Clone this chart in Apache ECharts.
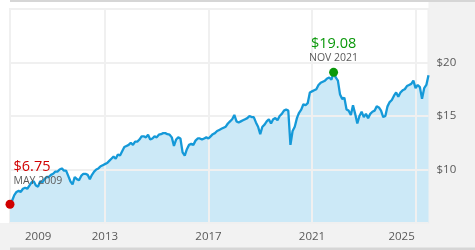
<!DOCTYPE html>
<html><head><meta charset="utf-8">
<script src="https://cdn.jsdelivr.net/npm/echarts@6/dist/echarts.min.js"></script>
<style>html,body{margin:0;padding:0;background:#fff}#c{width:475px;height:250px}</style>
</head><body><div id="c"></div>
<script>
// ---- data (monthly, first month May 2009) ----
const firstMonth = '2009-05';
const prices = [
  // 2009 May-Dec
  6.75, 7.1, 7.6, 7.9, 8.0, 7.9, 8.2, 8.3,
  // 2010
  8.2, 8.5, 8.8, 8.9, 8.5, 8.4, 8.9, 8.8, 9.1, 9.3, 9.3, 9.5,
  // 2011
  9.6, 9.8, 9.8, 10.0, 10.1, 9.9, 9.9, 9.4, 8.9, 8.6, 9.3, 9.1,
  // 2012
  9.0, 9.4, 9.6, 9.6, 9.5, 9.1, 9.5, 9.8, 10.0, 10.1, 10.3, 10.4,
  // 2013
  10.5, 10.6, 10.8, 11.0, 11.2, 11.0, 11.4, 11.3, 11.7, 12.1, 12.2, 12.3,
  // 2014
  12.5, 12.3, 12.6, 12.6, 12.8, 13.1, 13.1, 13.0, 13.25, 12.8, 12.9, 13.1,
  // 2015
  13.0, 13.25, 13.3, 13.4, 13.4, 13.3, 13.25, 13.0, 12.2, 12.8, 13.0, 12.9,
  // 2016
  11.6, 11.3, 11.9, 12.3, 12.4, 12.3, 12.7, 12.9, 12.9, 12.8, 12.9, 13.0,
  // 2017
  12.9, 13.1, 13.3, 13.4, 13.6, 13.7, 13.8, 13.9, 14.0, 14.3, 14.5, 14.7,
  // 2018
  15.1, 14.5, 14.4, 14.5, 14.6, 14.7, 14.8, 15.0, 14.9, 14.9, 14.4, 14.0,
  // 2019
  13.3, 14.0, 14.2, 14.5, 14.7, 14.3, 14.7, 14.8, 14.6, 15.0, 15.2, 15.5,
  // 2020
  15.6, 15.5, 12.3, 13.6, 14.0, 14.8, 15.3, 15.6, 16.1, 16.0, 16.2, 17.2,
  // 2021
  17.3, 17.4, 17.5, 17.9, 18.1, 18.2, 18.3, 18.5, 18.6, 18.4, 19.08, 18.6,
  // 2022
  18.3, 17.0, 16.6, 16.7, 15.6, 15.5, 15.1, 16.0, 15.2, 14.3, 15.0, 15.4,
  // 2023
  14.9, 15.2, 14.8, 15.2, 15.4, 15.5, 15.9, 15.8, 15.5, 14.9, 15.0, 15.9,
  // 2024
  16.3, 16.5, 16.9, 17.2, 16.8, 17.2, 17.4, 17.5, 17.8, 17.9, 18.0, 18.3,
  // 2025 Jan-Jul
  17.6, 17.9, 17.7, 16.6, 17.6, 17.9, 18.8
];
const xTickYears = [2013, 2017, 2021, 2025];
const xTickLabels = ['2009', '2013', '2017', '2021', '2025'];
const yTicks = [5, 10, 15, 20, 25];
const lowPoint = { date: '2009-05', value: 6.75, label: 'MAY 2009' };
const highPoint = { date: '2021-11', value: 19.08, label: 'NOV 2021' };

// ---- build (x = fractional year) ----
function ymToYear(ym) { const p = ym.split('-'); return +p[0] + (+p[1] - 1) / 12; }
const x0 = ymToYear(firstMonth);
const series = prices.map((v, i) => [x0 + i / 12, v]);
const xMin = series[0][0], xMax = series[series.length - 1][0];
// label anchors: first label sits inside the plot, last one is pulled left of its grid line
const labelPos = [2010.42, 2013, 2017, 2021, 2024.46];
const font = "'Open Sans', sans-serif";

const chart = echarts.init(document.getElementById('c'), null, { renderer: 'canvas' });
chart.setOption({
  backgroundColor: '#ffffff',
  animation: false,
  graphic: [
    { type: 'rect', z: -10, shape: { x: 0, y: 223, width: 475, height: 27 }, style: { fill: '#f2f2f2' } },
    { type: 'rect', z: -10, shape: { x: 428.5, y: 0, width: 46.5, height: 250 }, style: { fill: '#f2f2f2' } },
    { type: 'rect', z: -9, shape: { x: 10, y: 0, width: 465, height: 2 }, style: { fill: '#d6d6d6' } },
    { type: 'rect', z: -9, shape: { x: 10, y: 247.5, width: 465, height: 2.5 }, style: { fill: '#d6d6d6' } }
  ],
  grid: { left: 10, right: 46.5, top: 9, bottom: 27, show: true, borderColor: '#f0f0f0', borderWidth: 2, backgroundColor: 'transparent' },
  xAxis: {
    type: 'value', min: xMin, max: xMax, z: 2,
    axisLine: { show: false },
    axisTick: { show: false, customValues: xTickYears },
    splitLine: { show: true, lineStyle: { color: '#f0f0f0', width: 2 } },
    axisLabel: {
      customValues: labelPos, color: '#595959', fontSize: 11.5, fontFamily: font, margin: 8,
      formatter: function (v) {
        let best = 0, d = Infinity;
        labelPos.forEach((t, i) => { if (Math.abs(t - v) < d) { d = Math.abs(t - v); best = i; } });
        return xTickLabels[best];
      }
    }
  },
  yAxis: {
    type: 'value', position: 'right', min: yTicks[0], max: yTicks[yTicks.length - 1], interval: 5, z: 2,
    axisLine: { show: false }, axisTick: { show: false },
    splitLine: { show: true, lineStyle: { color: '#f0f0f0', width: 2 } },
    axisLabel: { color: '#595959', fontSize: 11.5, fontFamily: font, margin: 8, showMinLabel: false, showMaxLabel: false,
      formatter: v => '$' + v }
  },
  series: [
    { type: 'line', z: 1, data: series, symbol: 'none', lineStyle: { width: 0 }, areaStyle: { color: '#cce9f7', opacity: 1 }, silent: true },
    { type: 'line', z: 3, data: series, symbol: 'none', lineStyle: { width: 2.3, color: '#1599d8' }, silent: true },
    { type: 'scatter', z: 4, symbolSize: 9, silent: true,
      data: [
        { value: [ymToYear(lowPoint.date), lowPoint.value], itemStyle: { color: '#d00000', opacity: 1 },
          label: { show: true, position: [8, -40], align: 'left', verticalAlign: 'top',
            formatter: '{v|$' + lowPoint.value.toFixed(2) + '}\n{d|' + lowPoint.label + '}',
            rich: { v: { color: '#d00000', fontSize: 14.5, fontFamily: font, lineHeight: 15 },
                    d: { color: '#5a5a5a', fontSize: 10.5, fontFamily: font, lineHeight: 12 } } } },
        { value: [ymToYear(highPoint.date), highPoint.value], itemStyle: { color: '#0a980a', opacity: 1 },
          label: { show: true, position: 'top', distance: 4, align: 'center',
            formatter: '{v|$' + highPoint.value.toFixed(2) + '}\n{d|' + highPoint.label + '}',
            rich: { v: { color: '#0a980a', fontSize: 14.5, fontFamily: font, lineHeight: 15, align: 'center' },
                    d: { color: '#5a5a5a', fontSize: 10.5, fontFamily: font, lineHeight: 12, align: 'center' } } } }
      ] }
  ]
});
</script></body></html>
